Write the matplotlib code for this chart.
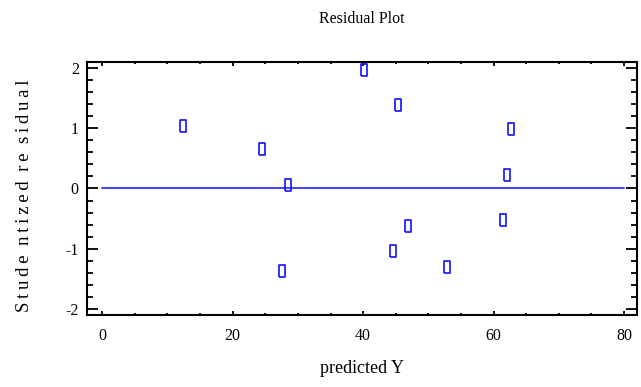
import matplotlib
matplotlib.use("Agg")
import matplotlib.pyplot as plt
from matplotlib.ticker import MultipleLocator
import numpy as np

# predicted values and studentized residuals
predicted = [12.4, 24.5, 28.5, 27.6, 40.1, 45.3, 44.6, 46.9, 52.8, 61.4, 62.0, 62.7]
residual = [1.03, 0.66, 0.06, -1.37, 1.96, 1.39, -1.04, -0.62, -1.31, -0.53, 0.22, 0.98]
zero_line_x = [0, 80]

plt.rcParams['font.family'] = ['Liberation Serif', 'DejaVu Serif']
plt.rcParams['axes.unicode_minus'] = False

blue = '#1010ff'
box = [(-0.55, -1), (0.55, -1), (0.55, 1), (-0.55, 1), (-0.55, -1)]

fig = plt.figure(figsize=(6.41, 3.87), dpi=100)
ax = fig.add_axes([0.136, 0.186, 0.858, 0.654])

ax.plot(zero_line_x, [0, 0], color=blue, lw=1.1)
ax.plot(predicted, residual, ls='none', marker=box, markersize=9,
        markerfacecolor='none', markeredgecolor=blue, markeredgewidth=1.2)

ax.set_xlim(-2.3, 82)
ax.set_ylim(-2.1, 2.1)
ax.xaxis.set_major_locator(MultipleLocator(20))
ax.xaxis.set_minor_locator(MultipleLocator(5))
ax.yaxis.set_major_locator(MultipleLocator(1))
ax.yaxis.set_minor_locator(MultipleLocator(0.2))

ax.tick_params(axis='both', which='both', direction='in', top=True, right=True, width=1.3)
ax.tick_params(axis='y', which='major', length=8, pad=6, labelsize=11.5)
ax.tick_params(axis='y', which='minor', length=4)
ax.tick_params(axis='x', which='major', length=3, pad=9, labelsize=11.5)
ax.tick_params(axis='x', which='minor', length=1.5)
for s in ax.spines.values():
    s.set_linewidth(1.5)

ax.set_title('Residual Plot', fontsize=11.5, pad=28)
ax.set_xlabel('predicted Y', fontsize=13, labelpad=12)
ylab = '  '.join('\u2009'.join(w) for w in ['Stude', 'ntized', 're', 'sidual'])
ax.set_ylabel(ylab, fontsize=13.5)
ax.yaxis.set_label_coords(-0.098, 0.47)

fig.savefig('out.png', dpi=100)
